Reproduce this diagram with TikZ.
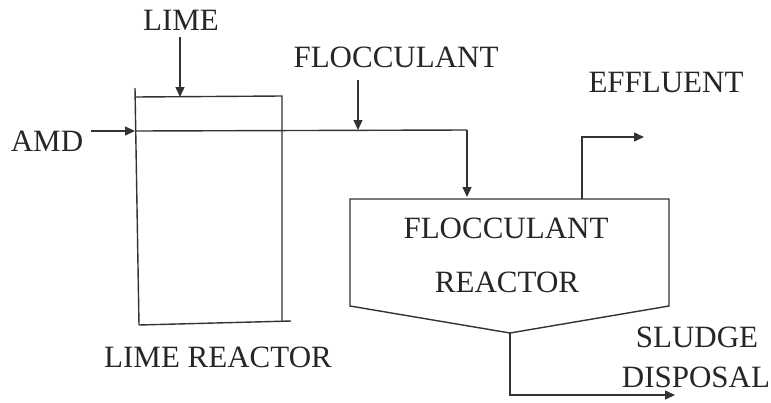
\documentclass[tikz,border=0pt]{standalone}
\usepackage{fontspec}
\setmainfont{Liberation Serif}
\usetikzlibrary{arrows.meta}
\begin{document}
\begin{tikzpicture}[x=1pt,y=-1pt,
  lbl/.style={anchor=base,inner sep=0pt,font=\fontsize{31}{37}\selectfont,text=black!85},
  ln/.style={line width=1.4pt,black!80},
  arr/.style={ln,-{Triangle[length=10pt,width=9pt]}}]
\useasboundingbox (0,0) rectangle (771,402);
% labels
\node[lbl] (lime) at (181,30) {LIME};
\node[lbl] (floc) at (396,67) {FLOCCULANT};
\node[lbl] (amd) at (47,151) {AMD};
\node[lbl] (eff) at (666,92) {EFFLUENT};
\node[lbl] (fr1) at (506,238) {FLOCCULANT};
\node[lbl] (fr2) at (507,292) {REACTOR};
\node[lbl] (sl1) at (697,347) {SLUDGE};
\node[lbl] (sl2) at (696,387) {DISPOSAL};
\node[lbl] (lr) at (218,367) {LIME REACTOR};
% lime reactor
\coordinate (ltl) at (135,97);
\coordinate (ltr) at (282,96);
\coordinate (lbr) at (282,322);
\coordinate (lbl) at (139,325);
\coordinate (lin) at (135,131);
\coordinate (limein) at (180,97);
\draw[ln] (135,88) -- (lbl);
\draw[ln] (ltl) -- (ltr) -- (lbr);
\draw[ln] (lbl) -- (291,321);
% flocculant reactor
\coordinate (ftl) at (350,199);
\coordinate (ftr) at (669,199);
\coordinate (fin) at (467,199);
\coordinate (fout) at (582,199);
\coordinate (apex) at (510,333);
\draw[ln] (ftl) -- (ftr) -- (669,306) -- (apex) -- (350,306) -- cycle;
% connectors
\coordinate (amdstart) at (91,131);
\coordinate (flocpt) at (358,130);
\coordinate (turn) at (467,130);
\coordinate (effend) at (644,137);
\coordinate (sludgeend) at (675,395);
\draw[arr] (amdstart) -- (lin);
\draw[arr] (180,37) -- (limein);
\draw[arr] (358,80) -- (flocpt);
\draw[ln] (lin) -- (turn);
\draw[arr] (turn) -- (467,197);
\draw[arr] (fout) -- (582,137) -- (effend);
\draw[arr] (apex) -- (510,395) -- (sludgeend);
\end{tikzpicture}
\end{document}
